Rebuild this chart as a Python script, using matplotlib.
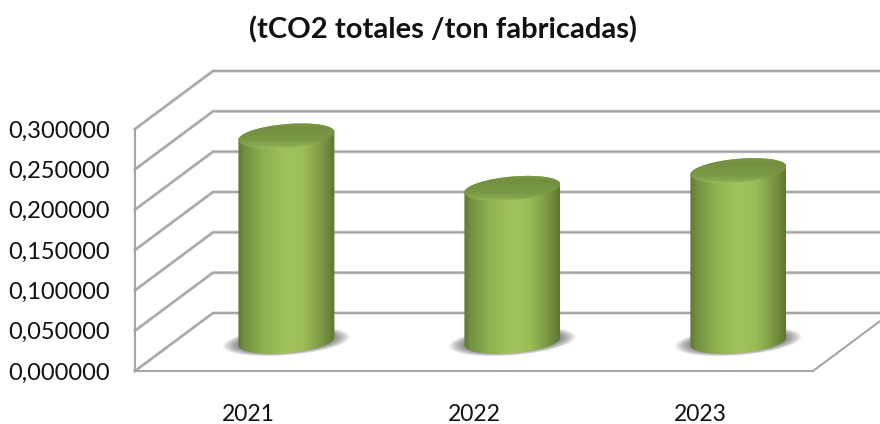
import numpy as np
import matplotlib
matplotlib.use("Agg")
import matplotlib.pyplot as plt
from matplotlib.patches import Polygon
from matplotlib.colors import LinearSegmentedColormap

years = ["2021", "2022", "2023"]
values = [0.256, 0.191, 0.213]
y_ticks = [0.0, 0.05, 0.10, 0.15, 0.20, 0.25, 0.30]
y_labels = ["0,000000", "0,050000", "0,100000", "0,150000", "0,200000", "0,250000", "0,300000"]
title = "(tCO2 totales /ton fabricadas)"

plt.rcParams['font.family'] = ['Lato', 'DejaVu Sans']
W, H = 880, 424
fig = plt.figure(figsize=(W/100, H/100), dpi=100)
L, R, T, B = 135, 813, 129, 371
EXTRA = 0.05                       # head-room above the top tick, so tall tops are not cut
YMAX = 0.30 + EXTRA
px_x = 3.0/(R-L)                   # data units per pixel
px_y = 0.30/(B-T)
T2 = B - YMAX/px_y
ax = fig.add_axes([L/W, 1-B/H, (R-L)/W, (B-T2)/H])
ax.set_xlim(-0.5, 2.5)
ax.set_ylim(0, YMAX)
ax.patch.set_visible(False)

DX, DY = 78*px_x, 58*px_y          # chart depth

GRID = "#a6a6a6"
lw = 1.5
x0 = -0.5
for v in y_ticks:
    ax.plot([x0, x0+DX, 3.0], [v, v+DY, v+DY], color="#dcdcdc", lw=lw+1.0, clip_on=False,
            solid_joinstyle="miter", zorder=0.9)
    ax.plot([x0, x0+DX, 3.0], [v, v+DY, v+DY], color=GRID, lw=lw, clip_on=False,
            solid_joinstyle="miter", zorder=1)
ax.plot([2.5, 2.5+DX], [0, DY], color=GRID, lw=lw, clip_on=False, zorder=1)

for s in ("top", "right"):
    ax.spines[s].set_visible(False)
for s in ("left", "bottom"):
    ax.spines[s].set_color(GRID)
    ax.spines[s].set_linewidth(lw)
ax.spines["left"].set_bounds(0, 0.30)

ax.set_yticks(y_ticks, y_labels)
ax.set_xticks(range(len(years)), years)
ax.tick_params(axis="y", length=0, pad=18, labelsize=17, labelcolor="#111111")
ax.tick_params(axis="x", length=0, pad=24, labelsize=16.5, labelcolor="#111111")
fig.text(443/W, 1-30/H, title, ha="center", va="center", fontsize=21, fontweight="bold", color="#111111")

side = LinearSegmentedColormap.from_list("side", [
    (0.00, "#5f7a33"), (0.07, "#73913f"), (0.25, "#8fae50"), (0.48, "#a2c25c"),
    (0.68, "#9dbd58"), (0.85, "#7f9c45"), (1.00, "#5e7732")])
top_cm = LinearSegmentedColormap.from_list("top", [
    (0.0, "#a4c25e"), (0.12, "#8aa94e"), (0.35, "#7a9744"), (0.8, "#729040"), (1.0, "#7f9c4a")])

HW = 48*px_x        # half width
TILT = 4*px_y
MINOR = 11.8*px_y

def ellipse(cx, cy, scale=1.0, n=90, t0=0, t1=2*np.pi):
    t = np.linspace(t0, t1, n)
    x = cx + scale*HW*np.cos(t)
    y = cy + scale*(TILT*np.cos(t) + MINOR*np.sin(t))
    return x, y

for i, v in enumerate(values):
    cx = i + DX/2 - 0.6*px_x
    base = DY/2 + 0.0007
    top = v + DY/2 - 0.0005
    # soft shadow
    for s in np.linspace(1.32, 1.02, 14):
        xs, ys = ellipse(cx, base, 1.0)
        xs = cx + (xs-cx)*s
        ys = base + (ys-base)*(s*0.9)
        ax.fill(xs, ys, color="#3a3a3a", alpha=0.05, lw=0, clip_on=False, zorder=2)
    # cylinder side
    xb, yb = ellipse(cx, base, t0=np.pi, t1=2*np.pi)
    xt, yt = ellipse(cx, top, t0=0, t1=np.pi)
    poly = Polygon(np.column_stack([np.r_[xb, xt], np.r_[yb, yt]]), closed=True,
                   transform=ax.transData, facecolor="none", edgecolor="none")
    ax.add_patch(poly)
    im = ax.imshow(np.linspace(0, 1, 256)[None, :], cmap=side, aspect="auto",
                   extent=[cx-HW, cx+HW, base-0.03, top+0.03], zorder=3)
    im.set_clip_path(poly)
    # top face
    xt2, yt2 = ellipse(cx, top)
    face = Polygon(np.column_stack([xt2, yt2]), closed=True, transform=ax.transData,
                   facecolor="none", edgecolor="none")
    ax.add_patch(face)
    grad = np.linspace(0, 1, 64)[:, None]
    im2 = ax.imshow(grad, cmap=top_cm, aspect="auto", origin="lower",
                    extent=[cx-HW, cx+HW, top-1.06*np.hypot(MINOR, TILT), top+1.06*np.hypot(MINOR, TILT)], zorder=4)
    im2.set_clip_path(face)

ax.set_xlim(-0.5, 2.5)
ax.set_ylim(0, YMAX)
fig.savefig("out.png", dpi=100)
